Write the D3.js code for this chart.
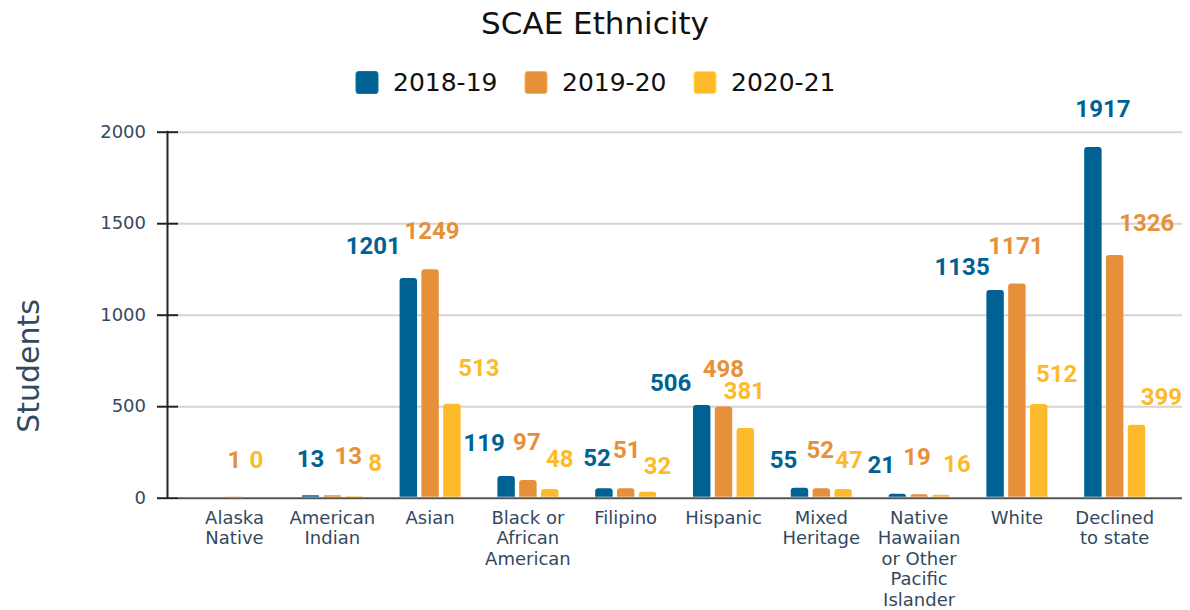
<!DOCTYPE html>
<html>
<head>
<meta charset="utf-8">
<script src="https://cdn.jsdelivr.net/npm/d3@7"></script>
<style>
  html, body { margin: 0; padding: 0; background: #fff; }
  svg { display: block; }
</style>
</head>
<body>
<svg id="chart" width="1190" height="610"></svg>
<script>
// ---- data ----
const categories = [
  "Alaska Native", "American Indian", "Asian", "Black or African American",
  "Filipino", "Hispanic", "Mixed Heritage",
  "Native Hawaiian or Other Pacific Islander", "White", "Declined to state"
];
const seriesNames = ["2018-19", "2019-20", "2020-21"];
const values2018 = [null, 13, 1201, 119, 52, 506, 55, 21, 1135, 1917];
const values2019 = [1, 13, 1249, 97, 51, 498, 52, 19, 1171, 1326];
const values2020 = [0, 8, 513, 48, 32, 381, 47, 16, 512, 399];
const yTicks = [0, 500, 1000, 1500, 2000];

// ---- styling / layout ----
const colors = ["#006293", "#E69139", "#FDBA2B"];
const axisTextColor = "#34495E";

// nudges [dx, dy] for the value labels so neighbouring numbers don't collide
const labelNudge = [
  [[0, 0], [0, 0], [0, 0]],
  [[0, 2], [16, -1], [21, 5]],
  [[-35, 6], [2, 0], [27, 2]],
  [[-22, 5], [-1, 0], [10, 8]],
  [[-7, 8], [1, 0], [10, 12]],
  [[-31, 16], [0, 0], [-1, 1]],
  [[-16, 10], [-1, 0], [6, 9]],
  [[-16, 9], [-2, 1], [16, 7]],
  [[-33, 15], [-1, 1], [18, 8]],
  [[10, 0], [32, 6], [25, 10]]
];

const seriesValues = [values2018, values2019, values2020];
const rows = categories.map((c, i) => ({
  category: c,
  index: i,
  values: seriesNames.map((s, k) => ({ series: s, k, value: seriesValues[k][i] }))
}));

const svg = d3.select("#chart");

const plotLeft = 178, plotRight = 1182;
const y = d3.scaleLinear().domain([0, 2000]).range([497.7, 131.7]);

const x0 = d3.scaleBand()
  .domain(categories)
  .range([185.6, 1163.6])
  .paddingInner(0.376)
  .paddingOuter(0.188);

const x1 = d3.scaleBand()
  .domain(seriesNames)
  .range([0, x0.bandwidth()])
  .paddingInner(0.2);

// ---- title ----
svg.append("text")
  .attr("x", 595).attr("y", 34)
  .attr("text-anchor", "middle")
  .style("font-family", "'DejaVu Sans', Verdana, sans-serif")
  .style("font-size", "31px")
  .attr("fill", "#111")
  .text("SCAE Ethnicity");

// ---- legend ----
const legendX = [356, 525, 694];
const legend = svg.append("g");
seriesNames.forEach((s, k) => {
  legend.append("rect")
    .attr("x", legendX[k]).attr("y", 71.5)
    .attr("width", 22).attr("height", 22)
    .attr("rx", 2.5)
    .attr("fill", colors[k])
    .attr("stroke", d3.color(colors[k]).brighter(0.6))
    .attr("stroke-width", 1);
  legend.append("text")
    .attr("x", legendX[k] + 37).attr("y", 91)
    .style("font-family", "'DejaVu Sans', Verdana, sans-serif")
    .style("font-size", "25px")
    .attr("fill", "#111")
    .text(s);
});

// ---- gridlines ----
const grid = svg.append("g")
  .attr("transform", `translate(${plotLeft},0)`)
  .call(d3.axisLeft(y).tickValues(yTicks).tickSize(-(plotRight - plotLeft)).tickFormat(""));
grid.select(".domain").remove();
grid.selectAll(".tick line")
  .attr("stroke", d => d === 0 ? "#555" : "#d4d4d4")
  .attr("stroke-width", 2);

// ---- y axis ----
const yAxis = svg.append("g")
  .attr("transform", `translate(${plotLeft},0)`)
  .call(d3.axisLeft(y).tickValues(yTicks).tickFormat(d3.format("d")).tickSize(21).tickPadding(11));
yAxis.select(".domain").remove();
yAxis.selectAll(".tick line").attr("stroke", "#222").attr("stroke-width", 2);
yAxis.selectAll(".tick text")
  .style("font-family", "'DejaVu Sans', Verdana, sans-serif")
  .style("font-size", "18px")
  .attr("fill", axisTextColor);

svg.append("line")
  .attr("x1", 167.5).attr("x2", 167.5)
  .attr("y1", y(2000) - 1).attr("y2", y(0) + 1)
  .attr("stroke", "#222").attr("stroke-width", 2);

svg.append("text")
  .attr("transform", "translate(39,366) rotate(-90)")
  .attr("text-anchor", "middle")
  .style("font-family", "'DejaVu Sans', Verdana, sans-serif")
  .style("font-size", "30px")
  .attr("fill", axisTextColor)
  .text("Students");

// ---- bars ----
function topRoundedBar(xl, w, yTop, yBase, r) {
  const h = yBase - yTop;
  const rr = Math.min(r, h, w / 2);
  return `M${xl},${yBase} L${xl},${yTop + rr} Q${xl},${yTop} ${xl + rr},${yTop}` +
         ` L${xl + w - rr},${yTop} Q${xl + w},${yTop} ${xl + w},${yTop + rr}` +
         ` L${xl + w},${yBase} Z`;
}

const groups = svg.append("g").selectAll("g")
  .data(rows).join("g")
  .attr("transform", d => `translate(${x0(d.category)},0)`);

groups.selectAll("path")
  .data(d => d.values.filter(v => v.value != null && v.value > 0))
  .join("path")
  .attr("fill", d => colors[d.k])
  .attr("d", d => topRoundedBar(x1(d.series), x1.bandwidth(), y(d.value), y(0) - 1, 3));

// ---- value labels ----
groups.each(function (row) {
  d3.select(this).selectAll("text.val")
    .data(row.values.filter(v => v.value != null))
    .join("text")
    .attr("class", "val")
    .attr("text-anchor", "middle")
    .attr("x", d => x1(d.series) + x1.bandwidth() / 2 + labelNudge[row.index][d.k][0])
    .attr("y", d => y(d.value) - 30 + labelNudge[row.index][d.k][1])
    .style("font-family", "Roboto, sans-serif")
    .style("font-weight", "bold")
    .style("font-size", "24px")
    .attr("fill", d => colors[d.k])
    .text(d => d.value);
});

// ---- category labels (wrapped) ----
const catLabels = svg.append("g");
categories.forEach(c => {
  const t = catLabels.append("text")
    .attr("text-anchor", "middle")
    .style("font-family", "'DejaVu Sans', Verdana, sans-serif")
    .style("font-size", "18px")
    .attr("fill", axisTextColor);
  const cx = x0(c) + x0.bandwidth() / 2;
  const words = c.split(" ");
  let line = [];
  let lineNo = 0;
  let tspan = t.append("tspan").attr("x", cx).attr("y", 524);
  words.forEach(w => {
    line.push(w);
    tspan.text(line.join(" "));
    if (tspan.node().getComputedTextLength() > 90 && line.length > 1) {
      line.pop();
      tspan.text(line.join(" "));
      line = [w];
      lineNo++;
      tspan = t.append("tspan").attr("x", cx).attr("y", 524 + lineNo * 20.4).text(w);
    }
  });
});
</script>
</body>
</html>
